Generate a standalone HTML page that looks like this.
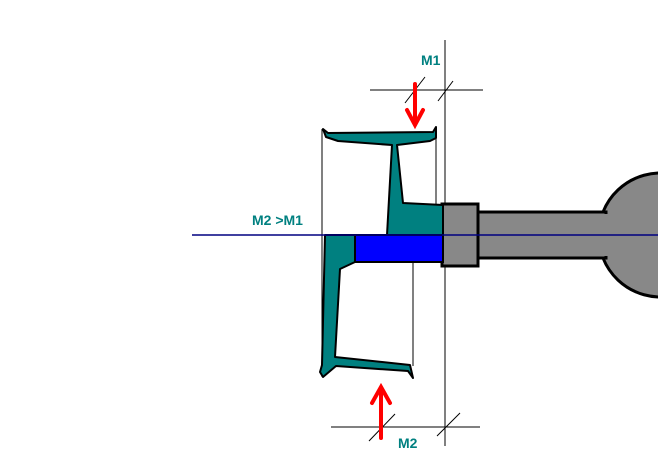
<!DOCTYPE html><html><head><style>body{margin:0;background:#fff}svg{display:block}text{font-family:"Liberation Sans",sans-serif;font-size:14px;font-weight:bold;fill:#008080}</style></head><body>
<svg width="658" height="468" viewBox="0 0 658 468">
<g stroke="#000" stroke-width="1" fill="none">
<line x1="445" y1="40" x2="445" y2="446"/>
<line x1="370" y1="90" x2="483" y2="90"/>
<line x1="331" y1="427" x2="480" y2="427"/>
<line x1="405" y1="103" x2="425" y2="77"/><line x1="438" y1="101" x2="453" y2="81"/>
<line x1="369" y1="441" x2="395" y2="414"/><line x1="437" y1="436" x2="460" y2="413"/>
<line x1="322" y1="129" x2="322" y2="377"/>
<line x1="436" y1="130" x2="436" y2="205"/>
<line x1="413" y1="262" x2="413" y2="366"/>
</g>
<path d="M603,212 A62,62 0 1,1 603,258 Z" fill="#888" stroke="#000" stroke-width="3"/>
<rect x="476" y="212" width="130" height="46" fill="#888" stroke="#000" stroke-width="3"/>
<rect x="601" y="214" width="10" height="42" fill="#888"/>
<rect x="442" y="204" width="36" height="62" fill="#888" stroke="#000" stroke-width="3"/>
<path d="M323,129 L328,133 L433,132 L436,127 L436,138 L430,141 L397,145 L403,203 L443,205 L443,235 L387,235 L392,145 L338,141 L326,137 Z" fill="#008080" stroke="#000" stroke-width="2" stroke-linejoin="round"/>
<path d="M325,235 L355,235 L355,262 L340,269 L335,357 L410,365 L413,378 L408,371 L336,366 L323,377 L320,372 L322,365 Z" fill="#008080" stroke="#000" stroke-width="2" stroke-linejoin="round"/>
<rect x="355" y="235" width="88" height="27" fill="#0000ff" stroke="#000" stroke-width="2"/>
<line x1="192" y1="235" x2="658" y2="235" stroke="#000080" stroke-width="1.5"/>
<g stroke="#f00" stroke-width="4" fill="none" stroke-linecap="round">
<line x1="415" y1="84" x2="415" y2="124"/><polyline points="407,110 415,125 423,110"/>
<line x1="381" y1="438" x2="381" y2="388"/><polyline points="372,403 381,387 390,403"/>
</g>
<text x="421" y="65">M1</text>
<text x="398" y="448">M2</text>
<text x="252" y="225">M2 &gt;M1</text>
</svg></body></html>
